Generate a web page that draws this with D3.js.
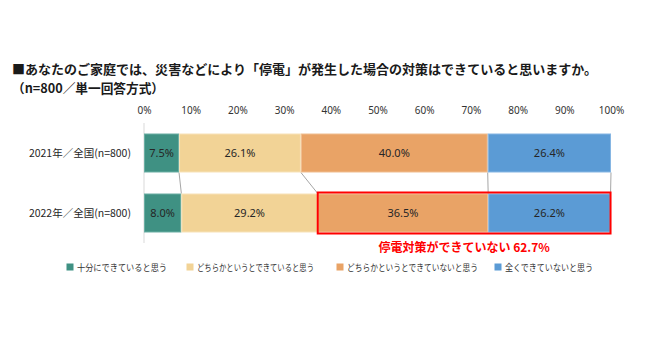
<!DOCTYPE html>
<html><head><meta charset="utf-8">
<script src="https://cdn.jsdelivr.net/npm/d3@7"></script>
<style>
body{margin:0;background:#fff;}
svg{display:block;font-family:"Noto Sans CJK JP","Noto Sans",sans-serif;}
</style></head>
<body>
<svg id="chart" width="650" height="340"></svg>
<script>
const titleLines = ["■あなたのご家庭では、災害などにより「停電」が発生した場合の対策はできていると思いますか。", "（n=800／単一回答方式）"];
const categories = ["2021年／全国(n=800)", "2022年／全国(n=800)"];
const seriesNames = ["十分にできていると思う", "どちらかというとできていると思う", "どちらかというとできていないと思う", "全くできていないと思う"];
const values2021 = [7.5, 26.1, 40.0, 26.4];
const values2022 = [8.0, 29.2, 36.5, 26.2];
const tickValues = [0, 10, 20, 30, 40, 50, 60, 70, 80, 90, 100];
const colors = ["#3f9183", "#f2d396", "#e9a366", "#5b9bd5"];
const borders = ["#6aaea3", "#f7e2b8", "#f0bd8f", "#86b6e3"];
const highlightLabel = "停電対策ができていない 62.7%";

const rows = [values2021, values2022];
const svg = d3.select("#chart");

const x = d3.scaleLinear().domain([0, 100]).range([144, 611]);
const y = d3.scaleBand().domain(categories).range([123, 243]).paddingInner(0.35).paddingOuter(0.175);

// title
const titleWidths = [585, 152];
svg.selectAll("text.title").data(titleLines).join("text")
  .attr("class", "title")
  .attr("x", 12).attr("y", (d, i) => 74 + i * 19)
  .attr("font-size", 12.8).attr("font-weight", "bold").attr("fill", "#1a1a1a")
  .attr("textLength", (d, i) => titleWidths[i]).attr("lengthAdjust", "spacingAndGlyphs")
  .text(d => d);

// top axis labels
const axis = d3.axisTop(x).tickValues(tickValues).tickFormat(d => d + "%").tickSize(0).tickPadding(0);
const gAxis = svg.append("g").attr("transform", "translate(0,114)").call(axis);
gAxis.select(".domain").remove();
gAxis.selectAll("text").attr("font-size", 10).attr("fill", "#333").attr("font-family", "'Noto Sans',sans-serif");

// stacked data
const stacked = rows.map((vals, ri) => {
  let acc = 0;
  return vals.map((v, si) => { const s = {row: ri, series: si, x0: acc, x1: acc + v, v}; acc += v; return s; });
});

// connector lines
d3.range(1, 5).forEach(k => {
  const a = d3.sum(values2021.slice(0, k));
  const b = d3.sum(values2022.slice(0, k));
  svg.append("line")
    .attr("x1", x(a)).attr("y1", y(categories[0]) + y.bandwidth())
    .attr("x2", x(b)).attr("y2", y(categories[1]))
    .attr("stroke", "#a6a6a6").attr("stroke-width", 1);
});

// axis vertical line
svg.append("line").attr("x1", x(0)).attr("x2", x(0)).attr("y1", 123).attr("y2", 243)
  .attr("stroke", "#d9d9d9").attr("stroke-width", 1);

// bars
stacked.forEach((segs, ri) => {
  const g = svg.append("g");
  g.selectAll("rect").data(segs).join("rect")
    .attr("x", d => x(d.x0) + 0.5).attr("y", y(categories[ri]) + 0.5)
    .attr("width", d => x(d.x1) - x(d.x0) - 1).attr("height", y.bandwidth() - 1)
    .attr("fill", d => colors[d.series]).attr("stroke", d => borders[d.series]).attr("stroke-width", 1);
  g.selectAll("text").data(segs).join("text")
    .attr("x", d => (x(d.x0) + x(d.x1)) / 2).attr("y", y(categories[ri]) + y.bandwidth() / 2 + 4)
    .attr("text-anchor", "middle").attr("font-size", 11).attr("fill", "#262626")
    .attr("font-family", "'Noto Sans',sans-serif")
    .text(d => d.v.toFixed(1) + "%");
});

// category labels
svg.selectAll("text.cat").data(categories).join("text")
  .attr("class", "cat")
  .attr("x", 131).attr("y", d => y(d) + y.bandwidth() / 2 + 4)
  .attr("text-anchor", "end").attr("font-size", 10.5).attr("fill", "#262626")
  .text(d => d);

// highlight box
const hx0 = d3.sum(values2022.slice(0, 2));
const hx1 = d3.sum(values2022);
svg.append("rect")
  .attr("x", x(hx0)).attr("y", y(categories[1]) - 1)
  .attr("width", x(hx1) - x(hx0)).attr("height", y.bandwidth() + 2)
  .attr("fill", "none").attr("stroke", "#ff0000").attr("stroke-width", 2);
svg.append("text")
  .attr("x", (x(hx0) + x(hx1)) / 2).attr("y", 252)
  .attr("text-anchor", "middle").attr("font-size", 12).attr("font-weight", "bold").attr("fill", "#ff0000")
  .text(highlightLabel);

// legend
const legendX = [70, 190, 340, 498];
const legendW = [90, 117, 131, 88];
const lg = svg.selectAll("g.leg").data(seriesNames).join("g")
  .attr("class", "leg")
  .attr("transform", (d, i) => `translate(${legendX[i]},267)`);
lg.append("rect").attr("x", -3.5).attr("y", -3.5).attr("width", 7).attr("height", 7)
  .attr("fill", (d, i) => colors[i]);
lg.append("text").attr("x", 7).attr("y", 3.5).attr("font-size", 9.5).attr("fill", "#333")
  .attr("textLength", (d, i) => legendW[i]).attr("lengthAdjust", "spacingAndGlyphs")
  .text(d => d);
</script>
</body></html>
